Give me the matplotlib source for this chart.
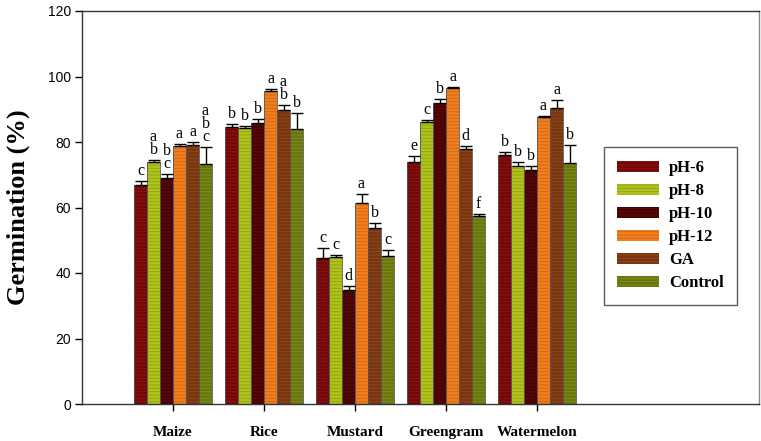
import matplotlib
matplotlib.use("Agg")
import matplotlib.pyplot as plt
import numpy as np

crops = ["Maize", "Rice", "Mustard", "Greengram", "Watermelon"]
series = ["pH-6", "pH-8", "pH-10", "pH-12", "GA", "Control"]

ph6 = [67.0, 84.5, 44.5, 74.0, 76.0]
ph8 = [74.0, 84.2, 45.0, 86.2, 72.8]
ph10 = [69.1, 85.7, 34.8, 91.8, 71.5]
ph12 = [78.8, 95.7, 61.3, 96.5, 87.5]
ga = [79.1, 89.8, 53.8, 77.9, 90.5]
control = [73.2, 83.9, 45.3, 57.5, 73.5]

ph6_err = [1.2, 1.0, 3.0, 1.8, 0.9]
ph8_err = [0.5, 0.7, 0.5, 0.6, 1.2]
ph10_err = [1.0, 1.3, 1.3, 1.4, 1.3]
ph12_err = [0.5, 0.6, 2.7, 0.4, 0.5]
ga_err = [0.8, 1.4, 1.4, 0.9, 2.3]
control_err = [5.2, 5.0, 1.7, 0.4, 5.6]

ph6_lbl = ["c", "b", "c", "e", "b"]
ph8_lbl = ["a\nb", "b", "c", "c", "b"]
ph10_lbl = ["b\nc", "b", "d", "b", "b"]
ph12_lbl = ["a", "a", "a", "a", "a"]
ga_lbl = ["a", "a\nb", "b", "d", "a"]
control_lbl = ["a\nb\nc", "b", "c", "f", "b"]

values = [ph6, ph8, ph10, ph12, ga, control]
errors = [ph6_err, ph8_err, ph10_err, ph12_err, ga_err, control_err]
letters = [ph6_lbl, ph8_lbl, ph10_lbl, ph12_lbl, ga_lbl, control_lbl]

face_colors = ["#720808", "#b0c21c", "#480303", "#f07e1c", "#783610", "#6a760e"]
hatch_colors = ["#921414", "#90a212", "#620909", "#d0661a", "#94481a", "#848f1c"]

plt.rcParams["hatch.linewidth"] = 0.6

fig = plt.figure(figsize=(7.61, 4.41), dpi=100)
ax = fig.add_axes([82 / 761, 37 / 441, (759 - 82) / 761, (404 - 11) / 441])

x = np.arange(len(crops))
w = 1.0 / 7
handles = []
for i, (vals, errs, lbls) in enumerate(zip(values, errors, letters)):
    pos = x + (i - 2.5) * w
    b = ax.bar(pos, vals, width=w, color=face_colors[i], edgecolor=hatch_colors[i],
               hatch="-----", linewidth=0, label=series[i], zorder=2)
    ax.bar(pos, vals, width=w, fill=False, edgecolor="#555555", linewidth=0.6, zorder=3)
    ax.errorbar(pos, vals, yerr=[np.zeros(len(vals)), errs], fmt="none", ecolor="black",
                elinewidth=1, capsize=4, capthick=1, zorder=4)
    for p, v, e, t in zip(pos, vals, errs, lbls):
        ax.text(p, v + e + 0.6, t, ha="center", va="bottom", fontsize=11.5,
                family="Liberation Serif", linespacing=0.75, zorder=5)
    handles.append(b)

ax.set_xlim(-1, (759 - 82) / 91.0 - 1)
ax.set_ylim(0, 120)
ax.set_yticks(np.arange(0, 121, 20))
ax.set_xticks(x)
ax.set_xticklabels(crops, family="Liberation Serif", fontweight="bold", fontsize=11)
for lab in ax.get_yticklabels():
    lab.set_family("Liberation Sans")
    lab.set_fontsize(10)
ax.tick_params(axis="y", direction="out", length=5, width=1, pad=3)
ax.tick_params(axis="x", direction="out", length=5, width=1, pad=11)
for s in ["left", "bottom", "top"]:
    ax.spines[s].set_color("#333333")
    ax.spines[s].set_linewidth(1)
ax.spines["right"].set_color("#888888")
ax.spines["right"].set_linewidth(1)

ax.set_ylabel("Germination (%)", family="Liberation Serif", fontweight="bold", fontsize=19)
ax.yaxis.set_label_coords(-52 / 677, 0.5)

leg = ax.legend(handles=handles, loc="upper left",
                bbox_to_anchor=((604 - 82) / 677, 1 - (147 - 11) / 393),
                prop={"family": "Liberation Serif", "weight": "bold", "size": 12},
                frameon=True, fancybox=False, edgecolor="#333333", handlelength=2.5,
                handleheight=0.6, labelspacing=0.42, borderpad=0.8, handletextpad=0.6,
                borderaxespad=0)
leg.get_frame().set_linewidth(1)

fig.savefig("out.png", dpi=100)
